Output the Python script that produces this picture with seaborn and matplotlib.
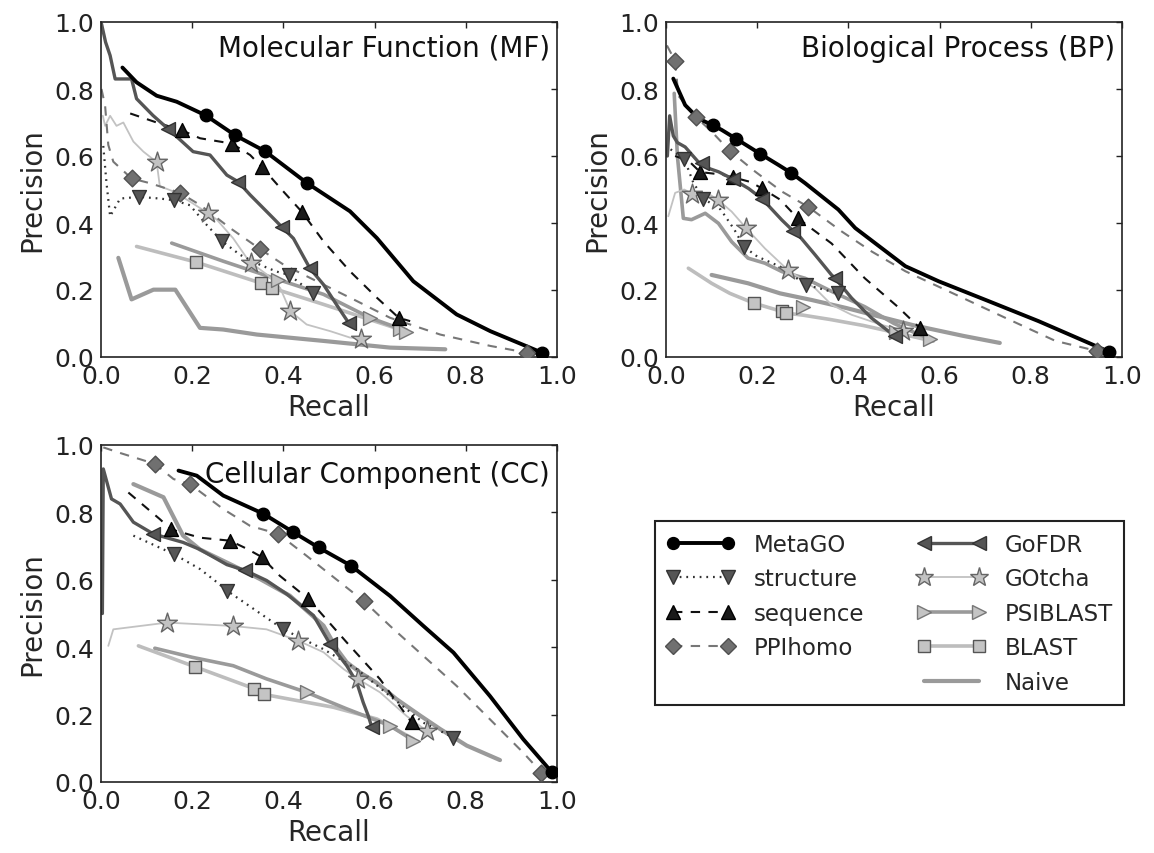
import matplotlib
matplotlib.use("Agg")
import matplotlib.pyplot as plt
from matplotlib.lines import Line2D
import seaborn as sns

# ---------------- data (recall, precision) ----------------
METHODS = ["MetaGO", "structure", "sequence", "PPIhomo", "GoFDR", "GOtcha", "PSIBLAST", "BLAST", "Naive"]
TICKS = [0.0, 0.2, 0.4, 0.6, 0.8, 1.0]
TICK_LABELS = ["0.0", "0.2", "0.4", "0.6", "0.8", "1.0"]
PANEL_TITLES = ["Molecular Function (MF)", "Biological Process (BP)", "Cellular Component (CC)"]

# ---- Molecular Function ----
mf_metago = ([0.047, 0.078, 0.122, 0.166, 0.23, 0.294, 0.36, 0.451, 0.546, 0.605, 0.685, 0.78, 0.854, 0.967],
             [0.864, 0.82, 0.78, 0.762, 0.721, 0.662, 0.614, 0.52, 0.435, 0.355, 0.226, 0.127, 0.077, 0.013])
mf_metago_pts = ([0.23, 0.294, 0.36, 0.451, 0.967], [0.721, 0.662, 0.614, 0.52, 0.013])
mf_structure = ([0.005, 0.012, 0.02, 0.042, 0.084, 0.129, 0.16, 0.195, 0.232, 0.265, 0.305, 0.349, 0.385, 0.413, 0.464],
                [0.63, 0.52, 0.42, 0.473, 0.478, 0.473, 0.468, 0.453, 0.394, 0.346, 0.305, 0.275, 0.255, 0.245, 0.191])
mf_structure_pts = ([0.084, 0.16, 0.265, 0.413, 0.464], [0.478, 0.468, 0.346, 0.245, 0.191])
mf_sequence = ([0.064, 0.122, 0.177, 0.217, 0.287, 0.327, 0.352, 0.40, 0.44, 0.488, 0.546, 0.605, 0.653, 0.678],
               [0.727, 0.70, 0.677, 0.653, 0.637, 0.603, 0.568, 0.494, 0.434, 0.345, 0.256, 0.177, 0.117, 0.107])
mf_sequence_pts = ([0.177, 0.287, 0.352, 0.44, 0.653], [0.677, 0.637, 0.568, 0.434, 0.117])
mf_ppihomo = ([0.001, 0.009, 0.016, 0.027, 0.067, 0.107, 0.173, 0.217, 0.283, 0.349, 0.40, 0.488, 0.561, 0.634, 0.744, 0.854, 0.934],
              [0.80, 0.75, 0.633, 0.583, 0.533, 0.519, 0.49, 0.454, 0.385, 0.322, 0.276, 0.216, 0.167, 0.117, 0.067, 0.033, 0.013])
mf_ppihomo_pts = ([0.067, 0.173, 0.349, 0.934], [0.533, 0.49, 0.322, 0.013])
mf_gofdr = ([0.001, 0.01, 0.02, 0.031, 0.067, 0.078, 0.114, 0.148, 0.202, 0.239, 0.276, 0.301, 0.327, 0.378, 0.396, 0.422, 0.458, 0.488, 0.521, 0.543],
            [0.995, 0.94, 0.90, 0.83, 0.83, 0.771, 0.721, 0.68, 0.613, 0.603, 0.543, 0.523, 0.484, 0.414, 0.389, 0.354, 0.265, 0.216, 0.147, 0.102])
mf_gofdr_pts = ([0.148, 0.301, 0.396, 0.458, 0.543], [0.68, 0.523, 0.389, 0.265, 0.102])
mf_gotcha = ([0.004, 0.009, 0.02, 0.034, 0.049, 0.071, 0.093, 0.122, 0.129, 0.159, 0.195, 0.235, 0.254, 0.29, 0.32, 0.33, 0.364, 0.393, 0.415, 0.451, 0.503, 0.546, 0.57],
             [0.72, 0.69, 0.72, 0.69, 0.70, 0.643, 0.613, 0.582, 0.51, 0.494, 0.464, 0.429, 0.41, 0.354, 0.295, 0.28, 0.246, 0.206, 0.137, 0.097, 0.077, 0.058, 0.055])
mf_gotcha_pts = ([0.122, 0.235, 0.33, 0.415, 0.57], [0.582, 0.429, 0.28, 0.137, 0.055])
mf_psiblast = ([0.155, 0.268, 0.389, 0.488, 0.59, 0.671], [0.34, 0.286, 0.231, 0.187, 0.117, 0.077])
mf_psiblast_pts = ([0.389, 0.59, 0.655, 0.668], [0.231, 0.117, 0.085, 0.075])
mf_blast = ([0.078, 0.209, 0.35, 0.375, 0.488, 0.656], [0.33, 0.283, 0.221, 0.206, 0.157, 0.082])
mf_blast_pts = ([0.209, 0.35, 0.375], [0.283, 0.221, 0.206])
mf_naive = ([0.038, 0.067, 0.115, 0.163, 0.217, 0.268, 0.342, 0.488, 0.634, 0.755],
            [0.296, 0.172, 0.201, 0.201, 0.087, 0.082, 0.067, 0.048, 0.028, 0.023])

# ---- Biological Process ----
bp_metago = ([0.016, 0.042, 0.071, 0.102, 0.122, 0.153, 0.206, 0.247, 0.274, 0.305, 0.378, 0.415, 0.525, 0.598, 0.707, 0.817, 0.971],
             [0.831, 0.752, 0.712, 0.692, 0.678, 0.652, 0.607, 0.573, 0.55, 0.519, 0.44, 0.385, 0.271, 0.226, 0.167, 0.107, 0.016])
bp_metago_pts = ([0.102, 0.153, 0.206, 0.274, 0.971], [0.692, 0.652, 0.607, 0.55, 0.016])
bp_structure = ([0.01, 0.03, 0.04, 0.06, 0.082, 0.12, 0.15, 0.171, 0.2, 0.25, 0.308, 0.35, 0.378],
                [0.62, 0.60, 0.592, 0.52, 0.473, 0.44, 0.38, 0.329, 0.30, 0.27, 0.215, 0.20, 0.19])
bp_structure_pts = ([0.04, 0.082, 0.171, 0.308, 0.378], [0.592, 0.473, 0.329, 0.215, 0.19])
bp_sequence = ([0.02, 0.05, 0.075, 0.12, 0.148, 0.184, 0.211, 0.25, 0.289, 0.363, 0.436, 0.509, 0.557],
               [0.60, 0.585, 0.552, 0.545, 0.536, 0.523, 0.503, 0.47, 0.414, 0.339, 0.235, 0.149, 0.086])
bp_sequence_pts = ([0.075, 0.148, 0.211, 0.289, 0.557], [0.552, 0.536, 0.503, 0.414, 0.086])
bp_ppihomo = ([0.002, 0.02, 0.027, 0.065, 0.10, 0.14, 0.195, 0.254, 0.312, 0.385, 0.451, 0.525, 0.634, 0.744, 0.854, 0.945],
              [0.93, 0.884, 0.78, 0.717, 0.673, 0.615, 0.554, 0.494, 0.448, 0.375, 0.315, 0.256, 0.187, 0.117, 0.048, 0.018])
bp_ppihomo_pts = ([0.02, 0.065, 0.14, 0.312, 0.945], [0.884, 0.717, 0.615, 0.448, 0.018])
bp_gofdr = ([0.003, 0.008, 0.016, 0.025, 0.042, 0.071, 0.078, 0.096, 0.115, 0.144, 0.181, 0.21, 0.217, 0.254, 0.279, 0.29, 0.327, 0.363, 0.371, 0.407, 0.451, 0.502],
            [0.60, 0.72, 0.66, 0.64, 0.627, 0.582, 0.58, 0.562, 0.553, 0.533, 0.503, 0.473, 0.463, 0.409, 0.376, 0.365, 0.305, 0.245, 0.235, 0.176, 0.116, 0.062])
bp_gofdr_pts = ([0.078, 0.148, 0.21, 0.279, 0.371, 0.502], [0.58, 0.53, 0.473, 0.376, 0.235, 0.062])
bp_gotcha = ([0.005, 0.02, 0.04, 0.056, 0.09, 0.115, 0.144, 0.175, 0.217, 0.267, 0.327, 0.363, 0.407, 0.473, 0.52],
             [0.42, 0.49, 0.50, 0.488, 0.49, 0.468, 0.434, 0.386, 0.324, 0.26, 0.205, 0.156, 0.126, 0.096, 0.078])
bp_gotcha_pts = ([0.056, 0.115, 0.175, 0.267, 0.52], [0.488, 0.468, 0.386, 0.26, 0.078])
bp_psiblast = ([0.018, 0.025, 0.038, 0.056, 0.086, 0.115, 0.144, 0.18, 0.217, 0.254, 0.305, 0.363, 0.436, 0.50, 0.55, 0.578],
               [0.787, 0.60, 0.414, 0.41, 0.429, 0.399, 0.344, 0.295, 0.28, 0.255, 0.235, 0.196, 0.15, 0.10, 0.07, 0.055])
bp_psiblast_pts = ([0.30, 0.505, 0.578], [0.148, 0.075, 0.053])
bp_blast = ([0.049, 0.10, 0.14, 0.192, 0.254, 0.263, 0.30, 0.36, 0.433, 0.506, 0.586],
            [0.265, 0.22, 0.19, 0.161, 0.136, 0.131, 0.125, 0.112, 0.094, 0.072, 0.047])
bp_blast_pts = ([0.192, 0.254, 0.263], [0.161, 0.136, 0.131])
bp_naive = ([0.10, 0.18, 0.25, 0.32, 0.396, 0.47, 0.542, 0.652, 0.732],
            [0.245, 0.22, 0.19, 0.17, 0.146, 0.12, 0.095, 0.063, 0.042])

# ---- Cellular Component ----
cc_metago = ([0.17, 0.21, 0.268, 0.356, 0.422, 0.477, 0.548, 0.634, 0.707, 0.773, 0.853, 0.926, 0.988],
             [0.924, 0.909, 0.85, 0.796, 0.741, 0.696, 0.642, 0.552, 0.463, 0.384, 0.255, 0.127, 0.03])
cc_metago_pts = ([0.356, 0.422, 0.477, 0.548, 0.988], [0.796, 0.741, 0.696, 0.642, 0.03])
cc_structure = ([0.071, 0.16, 0.217, 0.254, 0.276, 0.40, 0.488, 0.561, 0.634, 0.707, 0.773],
                [0.731, 0.676, 0.632, 0.593, 0.568, 0.453, 0.394, 0.335, 0.255, 0.176, 0.132])
cc_structure_pts = ([0.16, 0.276, 0.40, 0.773], [0.676, 0.568, 0.453, 0.132])
cc_sequence = ([0.06, 0.129, 0.153, 0.217, 0.283, 0.32, 0.352, 0.392, 0.455, 0.539, 0.612, 0.681],
               [0.859, 0.78, 0.75, 0.725, 0.716, 0.692, 0.668, 0.612, 0.543, 0.414, 0.305, 0.177])
cc_sequence_pts = ([0.153, 0.283, 0.352, 0.455, 0.681], [0.75, 0.716, 0.668, 0.543, 0.177])
cc_ppihomo = ([0.005, 0.038, 0.118, 0.159, 0.195, 0.268, 0.327, 0.389, 0.451, 0.577, 0.634, 0.707, 0.78, 0.853, 0.926, 0.966],
              [0.993, 0.978, 0.944, 0.899, 0.884, 0.81, 0.76, 0.736, 0.671, 0.536, 0.463, 0.374, 0.285, 0.186, 0.087, 0.028])
cc_ppihomo_pts = ([0.118, 0.195, 0.389, 0.577, 0.966], [0.944, 0.884, 0.736, 0.536, 0.028])
cc_gofdr = ([0.003, 0.005, 0.023, 0.042, 0.071, 0.115, 0.18, 0.217, 0.276, 0.316, 0.363, 0.407, 0.466, 0.502, 0.539, 0.561, 0.575, 0.586, 0.594],
            [0.50, 0.929, 0.84, 0.825, 0.771, 0.736, 0.711, 0.69, 0.645, 0.628, 0.598, 0.558, 0.494, 0.41, 0.345, 0.295, 0.236, 0.197, 0.162])
cc_gofdr_pts = ([0.115, 0.316, 0.502, 0.594], [0.736, 0.628, 0.41, 0.162])
cc_gotcha = ([0.016, 0.027, 0.086, 0.145, 0.217, 0.289, 0.363, 0.433, 0.488, 0.532, 0.564, 0.612, 0.67, 0.714],
             [0.404, 0.453, 0.463, 0.473, 0.468, 0.463, 0.453, 0.419, 0.385, 0.335, 0.305, 0.266, 0.196, 0.152])
cc_gotcha_pts = ([0.145, 0.289, 0.433, 0.564, 0.714], [0.473, 0.463, 0.419, 0.305, 0.152])
cc_psiblast = ([0.118, 0.20, 0.29, 0.363, 0.451, 0.539, 0.634, 0.685],
               [0.397, 0.37, 0.345, 0.306, 0.266, 0.217, 0.167, 0.123])
cc_psiblast_pts = ([0.451, 0.634, 0.685], [0.266, 0.167, 0.123])
cc_blast = ([0.082, 0.206, 0.336, 0.357, 0.509, 0.605, 0.685], [0.404, 0.342, 0.277, 0.26, 0.222, 0.187, 0.128])
cc_blast_pts = ([0.206, 0.336, 0.357], [0.342, 0.277, 0.26])
cc_naive = ([0.071, 0.137, 0.18, 0.217, 0.29, 0.349, 0.414, 0.488, 0.517, 0.539, 0.568, 0.604, 0.648, 0.70, 0.744, 0.802, 0.875],
            [0.884, 0.845, 0.731, 0.69, 0.642, 0.602, 0.553, 0.464, 0.395, 0.355, 0.325, 0.295, 0.246, 0.197, 0.157, 0.108, 0.065])

# ---------------- styles ----------------
STYLE = {
    "MetaGO":    dict(color="#000000", lw=2.8, ls="-", marker="o", ms=9, face="#000000", edge="#000000"),
    "structure": dict(color="#333333", lw=1.6, ls=(0, (0.8, 2.2)), marker="v", ms=10, face="#555555", edge="#333333"),
    "sequence":  dict(color="#111111", lw=1.5, ls=(0, (4.5, 4.0)), marker="^", ms=10, face="#1a1a1a", edge="#000000"),
    "PPIhomo":   dict(color="#777777", lw=1.5, ls=(0, (4.5, 4.0)), marker="D", ms=8.5, face="#707070", edge="#505050"),
    "GoFDR":     dict(color="#555555", lw=2.4, ls="-", marker="<", ms=10, face="#555555", edge="#333333"),
    "GOtcha":    dict(color="#c2c2c2", lw=1.3, ls="-", marker="*", ms=15, face="#c2c2c2", edge="#666666"),
    "PSIBLAST":  dict(color="#9a9a9a", lw=2.6, ls="-", marker=">", ms=10, face="#c4c4c4", edge="#777777"),
    "BLAST":     dict(color="#bdbdbd", lw=2.6, ls="-", marker="s", ms=9, face="#c4c4c4", edge="#555555"),
    "Naive":     dict(color="#9a9a9a", lw=3.0, ls="-", marker=None, ms=0, face=None, edge=None),
}

# ---------------- figure ----------------
sns.set_theme(style="white")
plt.rcParams.update({
    "font.family": ["DejaVu Sans"],
    "xtick.direction": "in", "ytick.direction": "in",
    "xtick.top": True, "ytick.right": True,
    "xtick.major.size": 4, "ytick.major.size": 4,
    "xtick.major.width": 1, "ytick.major.width": 1,
    "axes.edgecolor": "#222222", "axes.linewidth": 1.2,
    "xtick.color": "#222222", "ytick.color": "#222222",
})

W, H = 1154, 854
fig = plt.figure(figsize=(W / 100, H / 100), dpi=100)
fig.patch.set_facecolor("white")

def frac(l, t, r, b):
    return [l / W, 1 - b / H, (r - l) / W, (b - t) / H]

ax_mf = fig.add_axes(frac(101, 23, 557, 358))
ax_bp = fig.add_axes(frac(666, 23, 1122, 358))
ax_cc = fig.add_axes(frac(101, 446, 557, 783))

panels = [
    (ax_mf, PANEL_TITLES[0], 0.965, {
        "MetaGO": (mf_metago, mf_metago_pts), "structure": (mf_structure, mf_structure_pts),
        "sequence": (mf_sequence, mf_sequence_pts), "PPIhomo": (mf_ppihomo, mf_ppihomo_pts),
        "GoFDR": (mf_gofdr, mf_gofdr_pts), "GOtcha": (mf_gotcha, mf_gotcha_pts),
        "PSIBLAST": (mf_psiblast, mf_psiblast_pts), "BLAST": (mf_blast, mf_blast_pts),
        "Naive": (mf_naive, None)}),
    (ax_bp, PANEL_TITLES[1], 0.965, {
        "MetaGO": (bp_metago, bp_metago_pts), "structure": (bp_structure, bp_structure_pts),
        "sequence": (bp_sequence, bp_sequence_pts), "PPIhomo": (bp_ppihomo, bp_ppihomo_pts),
        "GoFDR": (bp_gofdr, bp_gofdr_pts), "GOtcha": (bp_gotcha, bp_gotcha_pts),
        "PSIBLAST": (bp_psiblast, bp_psiblast_pts), "BLAST": (bp_blast, bp_blast_pts),
        "Naive": (bp_naive, None)}),
    (ax_cc, PANEL_TITLES[2], 0.955, {
        "MetaGO": (cc_metago, cc_metago_pts), "structure": (cc_structure, cc_structure_pts),
        "sequence": (cc_sequence, cc_sequence_pts), "PPIhomo": (cc_ppihomo, cc_ppihomo_pts),
        "GoFDR": (cc_gofdr, cc_gofdr_pts), "GOtcha": (cc_gotcha, cc_gotcha_pts),
        "PSIBLAST": (cc_psiblast, cc_psiblast_pts), "BLAST": (cc_blast, cc_blast_pts),
        "Naive": (cc_naive, None)}),
]

draw_order = ["Naive", "BLAST", "PSIBLAST", "GOtcha", "PPIhomo", "structure", "sequence", "GoFDR", "MetaGO"]

for ax, title, ty, series in panels:
    for z, name in enumerate(draw_order):
        st = STYLE[name]
        (cx, cy), pts = series[name]
        sns.lineplot(x=cx, y=cy, ax=ax, sort=False, estimator=None, color=st["color"],
                     linewidth=st["lw"], linestyle=st["ls"], zorder=2 + z * 0.01)
        if pts is not None:
            sns.scatterplot(x=pts[0], y=pts[1], ax=ax, marker=st["marker"], s=st["ms"] ** 2,
                            color=st["face"], edgecolor=st["edge"], linewidth=1.0,
                            zorder=4 + z * 0.01, legend=False)
    ax.set_xlim(0, 1)
    ax.set_ylim(0, 1)
    ax.set_xticks(TICKS)
    ax.set_xticklabels(TICK_LABELS)
    ax.set_yticks(TICKS)
    ax.set_yticklabels(TICK_LABELS)
    ax.tick_params(labelsize=18, pad=5)
    ax.set_xlabel("Recall", fontsize=20, labelpad=4)
    ax.set_ylabel("Precision", fontsize=20, labelpad=6)
    ax.text(0.985, ty, title, transform=ax.transAxes, ha="right", va="top", fontsize=20, color="#111111", zorder=10)
    for sp in ax.spines.values():
        sp.set_visible(True)

# ---------------- legend ----------------
def handle(name):
    st = STYLE[name]
    return Line2D([0], [0], color=st["color"], lw=st["lw"], linestyle=st["ls"],
                  marker=st["marker"] if st["marker"] else None, markersize=st["ms"] * 0.95,
                  markerfacecolor=st["face"], markeredgecolor=st["edge"], markeredgewidth=1.0)

left_col = ["MetaGO", "structure", "sequence", "PPIhomo"]
right_col = ["GoFDR", "GOtcha", "PSIBLAST", "BLAST", "Naive"]
handles = [handle(n) for n in left_col] + [Line2D([0], [0], color="none")] + [handle(n) for n in right_col]
labels = left_col + [""] + right_col

leg = fig.legend(handles, labels, loc="lower left", ncol=2, mode="expand",
                 bbox_to_anchor=(655 / W, (H - 706) / H, 469 / W, 0.25), borderaxespad=0,
                 fontsize=16.5, numpoints=2, handlelength=3.0, handletextpad=0.8,
                 labelspacing=0.5, borderpad=0.5, frameon=True, fancybox=False,
                 edgecolor="#222222", framealpha=1.0)
leg.get_frame().set_linewidth(1.5)

fig.savefig("out.png", dpi=100, facecolor="white")
